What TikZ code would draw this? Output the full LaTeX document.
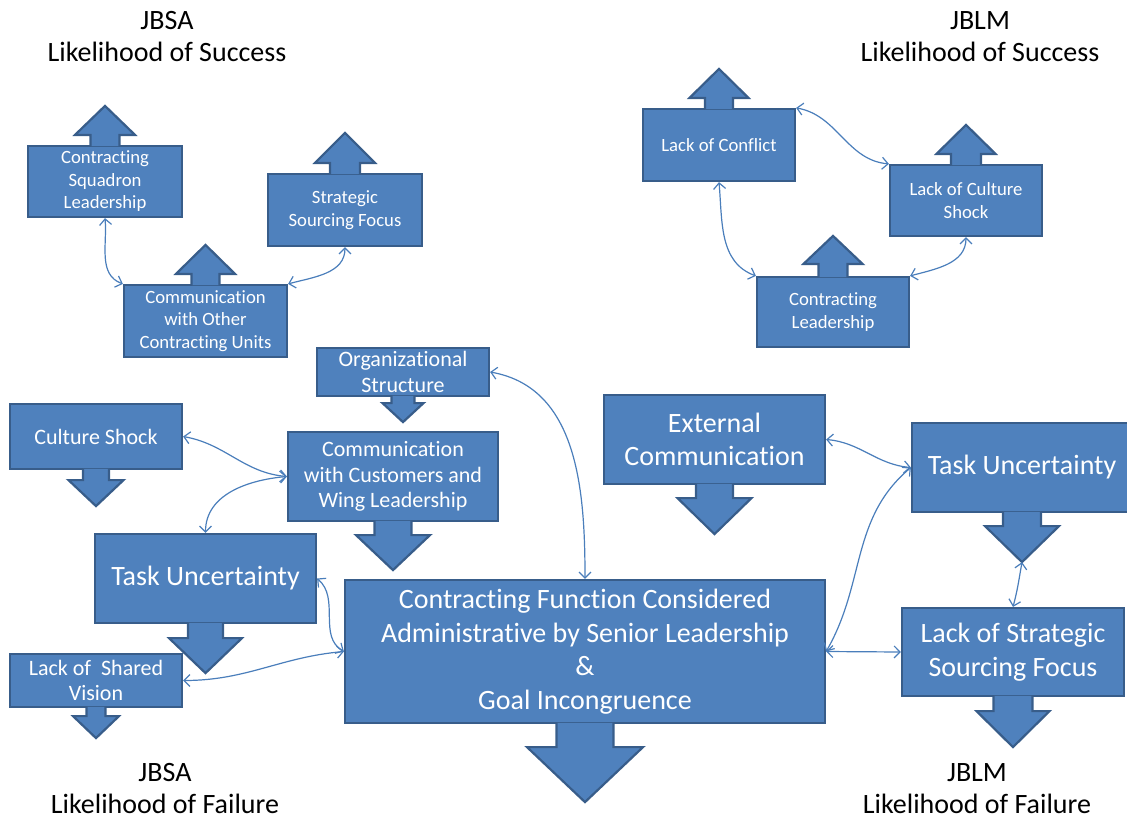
\documentclass[tikz,border=0pt]{standalone}
\usepackage{fontspec}
\setmainfont{Carlito}[Ligatures=NoCommon]
\usetikzlibrary{arrows.meta}
\definecolor{boxblue}{HTML}{4F81BD}
\definecolor{boxedge}{HTML}{385D8A}
\definecolor{linkblue}{HTML}{4A7EBB}

% callout arrows: node, stem half width, head half width, stem length, head length, tip
\newcommand{\uparr}[6]{%
  \filldraw[stem] ([xshift=-#2pt,yshift=-1.2pt]#1.north) -- ++(0pt,#4pt+1.2pt) -- ++(#2pt-#3pt,0pt)
    -- ++(#3pt,#5pt) coordinate (#6) -- ++(#3pt,-#5pt) -- ++(#2pt-#3pt,0pt) -- ++(0pt,-#4pt-1.2pt);}
\newcommand{\downarr}[6]{%
  \filldraw[stem] ([xshift=-#2pt,yshift=1.2pt]#1.south) -- ++(0pt,-#4pt-1.2pt) -- ++(#2pt-#3pt,0pt)
    -- ++(#3pt,-#5pt) coordinate (#6) -- ++(#3pt,#5pt) -- ++(#2pt-#3pt,0pt) -- ++(0pt,#4pt+1.2pt);}

\begin{document}
\begin{tikzpicture}[x=1pt, y=1pt,
    callbox/.style={draw=boxedge, fill=boxblue, line width=2.2pt, text=white, align=center, inner sep=0pt},
    smallbox/.style={callbox, font=\fontsize{18.7}{22.5}\selectfont},
    midbox/.style={callbox, font=\fontsize{22}{25.5}\selectfont},
    bigbox/.style={callbox, font=\fontsize{28}{33.5}\selectfont},
    stem/.style={draw=boxedge, fill=boxblue, line width=2.2pt, line join=miter},
    heading/.style={align=center, inner sep=0pt, font=\fontsize{28}{32}\selectfont},
    relation/.style={draw=linkblue, line width=1.2pt,
        {Straight Barb[length=6pt,width=12pt]}-{Straight Barb[length=6pt,width=12pt]}}]
\useasboundingbox (0,0) rectangle (1127,-820);

%headings
\node[heading] (sa-top) at (167,-36.5) {JBSA\\Likelihood of Success};
\node[heading] (lm-top) at (980,-36.5) {JBLM\\Likelihood of Success};
\node[heading] (sa-bot) at (165,-789) {JBSA\\Likelihood of Failure};
\node[heading] (lm-bot) at (977,-789) {JBLM\\Likelihood of Failure};

% JBSA success
\node[smallbox, minimum width=154pt, minimum height=71pt] (sq) at (105,-181.5) {Contracting\\Squadron\\Leadership};
\node[smallbox, minimum width=154pt, minimum height=72pt] (ss) at (345,-210) {Strategic\\Sourcing Focus};
\node[smallbox, minimum width=163pt, minimum height=72pt] (co) at (205.5,-321) {Communication\\with Other\\Contracting Units};
\uparr{sq}{14.5}{30}{10}{29}{sq-tip}
\uparr{ss}{15}{30}{10}{30}{ss-tip}
\uparr{co}{14}{29.5}{10}{29}{co-tip}

% JBLM success
\node[smallbox, minimum width=152pt, minimum height=72pt] (lc) at (719,-145) {Lack of Conflict};
\node[smallbox, minimum width=152pt, minimum height=71pt] (ls) at (966,-200.5) {Lack of Culture\\Shock};
\node[smallbox, minimum width=152pt, minimum height=70pt] (cl) at (833,-312) {Contracting\\Leadership};
\uparr{lc}{14}{29.5}{10}{29}{lc-tip}
\uparr{ls}{15}{29.5}{10}{29}{ls-tip}
\uparr{cl}{14.5}{29.5}{12}{28}{cl-tip}

% JBSA failure
\node[midbox, minimum width=172pt, minimum height=48pt] (os) at (403,-372) {Organizational\\Structure};
\node[midbox, minimum width=172pt, minimum height=65pt] (cs) at (96,-436.5) {Culture Shock};
\node[midbox, minimum width=210pt, minimum height=89pt] (cc) at (393,-476.5) {Communication\\with Customers and\\Wing Leadership};
\node[bigbox, minimum width=221pt, minimum height=89pt] (tl) at (205.5,-578.5) {Task Uncertainty};
\node[midbox, minimum width=172pt, minimum height=53pt] (lv) at (96,-680.5) {Lack of~ Shared\\Vision};
\downarr{os}{11.5}{20.5}{6}{19}{os-tip}
\downarr{cs}{13}{27.5}{10}{26}{cs-tip}
\downarr{cc}{18.5}{37}{13}{35}{cc-tip}
\downarr{tl}{17.5}{36.5}{14}{35}{tl-tip}
\downarr{lv}{9.5}{23}{8}{22}{lv-tip}

% core
\node[bigbox, minimum width=480pt, minimum height=143pt] (cf) at (585,-651.5)
  {Contracting Function Considered\\Administrative by Senior Leadership\\\&\\Goal Incongruence};
\downarr{cf}{28.5}{58}{23}{55}{cf-tip}

% JBLM failure
\node[bigbox, minimum width=221pt, minimum height=89pt] (ec) at (714.5,-439.5) {External\\Communication};
\node[bigbox, minimum width=220pt, minimum height=89pt] (tr) at (1022,-467.5) {Task Uncertainty};
\node[bigbox, minimum width=222pt, minimum height=88pt] (lsf) at (1013,-652) {Lack of Strategic\\Sourcing Focus};
\downarr{ec}{18.5}{37}{13}{36}{ec-tip}
\downarr{tr}{19}{37}{13}{36}{tr-tip}
\downarr{lsf}{19.5}{36.5}{14}{36}{lsf-tip}

%relations
\draw[relation] (sq.south) to[out=-85,in=160] (co.north west);
\draw[relation] (ss.south) to[out=-90,in=15] (co.north east);
\draw[relation] (lc.north east) to[out=-10,in=175] (ls.north west);
\draw[relation] (lc.south) to[out=-85,in=160] (cl.north west);
\draw[relation] (ls.south) to[out=-90,in=15] (cl.north east);
\draw[relation] (os.east) to[out=-10,in=90] (cf.north);
\draw[relation] (cs.east) to[out=-10,in=175] (cc.west);
\draw[relation] (cc.west) to[out=185,in=90] (tl.north);
\draw[relation] (tl.east) to[out=-40,in=150] (cf.west);
\draw[relation] (lv.east) to[out=0,in=185] (cf.west);
\draw[relation] (ec.east) to[out=-5,in=175] (tr.west);
\draw[relation] (tr.west) to[out=220,in=60] (cf.east);
\draw[relation] (cf.east) -- (lsf.west);
\draw[relation] (tr-tip) to[out=-100,in=75] (lsf.north);
\end{tikzpicture}
\end{document}
